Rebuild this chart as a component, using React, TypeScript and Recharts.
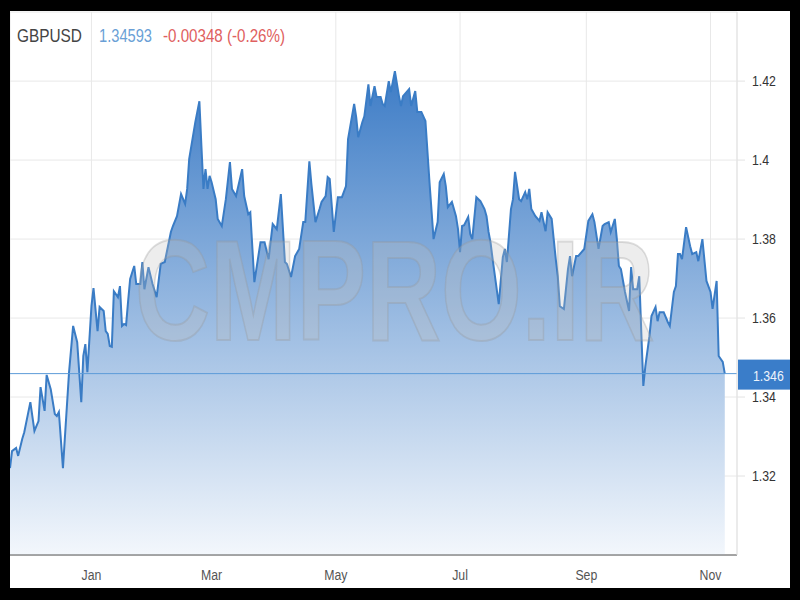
import React from 'react';
import { AreaChart, Area, XAxis, YAxis, CartesianGrid, ReferenceLine } from 'recharts';

// GBP/USD daily closes, Nov 2020 – Nov 2021
const SYMBOL = 'GBPUSD';
const PREV_CLOSE = 1.34941;
const START = Date.UTC(2020, 10, 22);
const DAY = 86400000;
const SPAN_DAYS = 357;

// [days since START, close]
const late2020: [number, number][] = [
  [0, 1.3220], [1, 1.3263], [3, 1.3271], [4, 1.3251], [6, 1.3294], [7, 1.3311], [10, 1.3387],
  [12, 1.3314], [14, 1.3339], [15, 1.3425], [17, 1.3365], [18, 1.3456], [20, 1.3420], [22, 1.3357],
  [23, 1.3352], [24, 1.3362], [26, 1.3220], [29, 1.3463], [31, 1.3580], [33, 1.3539], [35, 1.3387],
  [36, 1.3504], [37, 1.3534], [38, 1.3463],
];

const q1: [number, number][] = [
  [40, 1.3630], [41, 1.3676], [43, 1.3567], [44, 1.3628], [46, 1.3618], [47, 1.3567], [48, 1.3560],
  [49, 1.3529], [50, 1.3527], [51, 1.3668], [53, 1.3653], [54, 1.3681], [55, 1.3580], [56, 1.3585],
  [57, 1.3582], [58, 1.3643], [59, 1.3699], [61, 1.3732], [62, 1.3686], [64, 1.3686], [65, 1.3742],
  [66, 1.3673], [68, 1.3729], [70, 1.3686], [72, 1.3653], [74, 1.3737], [76, 1.3742], [79, 1.3818],
  [80, 1.3833], [82, 1.3858], [84, 1.3914], [86, 1.3889], [87, 1.3927], [88, 1.4003], [91, 1.4096],
  [93, 1.4149], [94, 1.4035], [95, 1.3927], [96, 1.3977], [97, 1.3927], [98, 1.3960], [99, 1.3944],
  [101, 1.3901], [102, 1.3851], [104, 1.3833], [106, 1.3901], [108, 1.3995], [109, 1.3927],
  [111, 1.3909], [114, 1.3977], [115, 1.3909], [117, 1.3863], [118, 1.3868], [120, 1.3691],
  [123, 1.3792], [125, 1.3792], [127, 1.3749], [129, 1.3838],
];

const q2: [number, number][] = [
  [131, 1.3825], [133, 1.3914], [135, 1.3742], [136, 1.3737], [138, 1.3704], [140, 1.3757],
  [142, 1.3775], [144, 1.3843], [145, 1.3843], [147, 1.3997], [148, 1.3939], [150, 1.3843],
  [152, 1.3876], [153, 1.3894], [155, 1.3909], [156, 1.3957], [157, 1.3952], [159, 1.3818],
  [161, 1.3906], [163, 1.3906], [165, 1.3934], [166, 1.4053], [169, 1.4142], [170, 1.4109],
  [171, 1.4058], [173, 1.4096], [174, 1.4111], [176, 1.4192], [177, 1.4137], [179, 1.4187],
  [180, 1.4160], [182, 1.4160], [183, 1.4142], [184, 1.4137], [186, 1.4200], [187, 1.4172],
  [189, 1.4225], [191, 1.4162], [192, 1.4137], [193, 1.4162], [196, 1.4180], [197, 1.4137],
  [199, 1.4175], [200, 1.4122], [202, 1.4122], [204, 1.4099], [206, 1.3944], [208, 1.3800],
  [210, 1.3843], [211, 1.3944], [213, 1.3965], [214, 1.3934], [215, 1.3881], [217, 1.3894],
  [219, 1.3858], [220, 1.3825],
];

const q3: [number, number][] = [
  [221, 1.3767], [222, 1.3833], [223, 1.3835], [225, 1.3856], [226, 1.3813], [227, 1.3800],
  [229, 1.3906], [231, 1.3896], [233, 1.3876], [234, 1.3858], [235, 1.3818], [236, 1.3790],
  [237, 1.3749], [240, 1.3635], [242, 1.3754], [243, 1.3775], [244, 1.3742], [246, 1.3876],
  [247, 1.3901], [248, 1.3970], [250, 1.3901], [251, 1.3896], [253, 1.3919], [254, 1.3901],
  [255, 1.3927], [256, 1.3876], [258, 1.3858], [260, 1.3846], [261, 1.3868], [263, 1.3820],
  [264, 1.3868], [266, 1.3851], [267, 1.3800], [268, 1.3749], [269, 1.3706], [270, 1.3630],
  [272, 1.3623], [274, 1.3724], [275, 1.3757], [276, 1.3706], [278, 1.3757], [279, 1.3757],
  [282, 1.3775], [284, 1.3846], [286, 1.3863], [287, 1.3843], [289, 1.3775], [291, 1.3833],
  [292, 1.3838], [294, 1.3843], [295, 1.3818], [297, 1.3851], [298, 1.3800], [299, 1.3732],
  [300, 1.3724], [302, 1.3666], [304, 1.3618], [305, 1.3729], [306, 1.3673], [308, 1.3673],
  [309, 1.3706], [310, 1.3565], [311, 1.3428], [312, 1.3478],
];

const q4: [number, number][] = [
  [314, 1.3554], [315, 1.3605], [317, 1.3628], [318, 1.3592], [319, 1.3615], [321, 1.3615],
  [323, 1.3590], [324, 1.3580], [326, 1.3666], [327, 1.3681], [328, 1.3762], [329, 1.3762],
  [330, 1.3749], [332, 1.3830], [334, 1.3782], [335, 1.3762], [337, 1.3767], [338, 1.3744],
  [340, 1.3800], [342, 1.3694], [344, 1.3666], [345, 1.3623], [347, 1.3694], [348, 1.3504],
  [350, 1.3489], [351, 1.34593],
];

const MONTH_LABELS = ['Jan', 'Mar', 'May', 'Jul', 'Sep', 'Nov'];
const MONTH_STARTS = [
  Date.UTC(2021, 0, 1), Date.UTC(2021, 2, 1), Date.UTC(2021, 4, 1),
  Date.UTC(2021, 6, 1), Date.UTC(2021, 8, 1), Date.UTC(2021, 10, 1),
];
const PRICE_TICKS = [1.32, 1.34, 1.36, 1.38, 1.40, 1.42];
const PRICE_DOMAIN: [number, number] = [1.30, 1.4375];
const WATERMARK = 'CMPRO.IR';

const series = [...late2020, ...q1, ...q2, ...q3, ...q4].map(([d, close]) => ({
  t: START + d * DAY,
  close,
}));

const LAST = series[series.length - 1].close;
const CHANGE = LAST - PREV_CLOSE;
const CHANGE_PCT = (CHANGE / PREV_CLOSE) * 100;

const W = 780;
const H = 577;
const FONT = "'Liberation Sans', Arial, Helvetica, sans-serif";
const NARROW = 'scale(0.82,1)';

const MonthTick = (props: any) => {
  const { x, y, payload } = props;
  const i = MONTH_STARTS.indexOf(payload.value);
  return (
    <g transform={`translate(${x},${y})`}>
      <text x={0} y={0} dy="0.71em" textAnchor="middle" fontSize={15} fill="#555" fontFamily={FONT} transform={NARROW}>
        {i >= 0 ? MONTH_LABELS[i] : ''}
      </text>
    </g>
  );
};

const PriceTick = (props: any) => {
  const { x, y, payload } = props;
  return (
    <g transform={`translate(${x},${y})`}>
      <text x={0} y={0} dy="0.355em" textAnchor="start" fontSize={15} fill="#333" fontFamily={FONT} transform={NARROW}>
        {String(Number(payload.value.toFixed(2)))}
      </text>
    </g>
  );
};

const PriceTag = (props: any) => {
  const { viewBox } = props;
  if (!viewBox) return null;
  const right = viewBox.x + viewBox.width;
  const cy = viewBox.y;
  return (
    <g>
      <rect x={right + 1} y={cy - 14} width={60} height={30} fill="#3a7dc9" />
      <g transform={`translate(${right + 16},${cy + 2})`}>
        <text x={0} y={0} dy="0.355em" textAnchor="start" fontSize={15} fill="#eef4fb" fontFamily={FONT} transform={NARROW}>
          {LAST.toFixed(3)}
        </text>
      </g>
    </g>
  );
};

export default function App() {
  return (
    <div style={{ position: 'absolute', left: 0, top: 0, width: 800, height: 600, background: '#000' }}>
      <div style={{ position: 'absolute', left: 10, top: 11, width: W, height: H, background: '#fff', overflow: 'hidden' }}>
        <AreaChart width={W} height={H} data={series} margin={{ top: 1, right: 0, bottom: 0, left: 0 }}>
          <defs>
            <linearGradient id="gbpFill" x1="0" y1="0" x2="0" y2="1">
              <stop offset="0%" stopColor="#3d7cc6" stopOpacity={1} />
              <stop offset="100%" stopColor="#f3f7fc" stopOpacity={1} />
            </linearGradient>
          </defs>
          <CartesianGrid stroke="#e8e8e8" />
          <XAxis
            dataKey="t"
            type="number"
            domain={[START, START + SPAN_DAYS * DAY]}
            ticks={MONTH_STARTS}
            tick={MonthTick}
            tickLine={false}
            tickSize={8}
            tickMargin={6}
            axisLine={{ stroke: '#555' }}
            height={33}
            allowDataOverflow
          />
          <YAxis
            orientation="right"
            domain={PRICE_DOMAIN}
            ticks={PRICE_TICKS}
            tick={PriceTick}
            width={53}
            tickSize={8}
            tickMargin={7}
            tickLine={{ stroke: '#e3e3e3' }}
            axisLine={{ stroke: '#e3e3e3' }}
            allowDataOverflow
          />
          <Area
            type="linear"
            dataKey="close"
            stroke="#3a7cc5"
            strokeWidth={2}
            fill="url(#gbpFill)"
            fillOpacity={1}
            dot={false}
            activeDot={false}
            isAnimationActive={false}
          />
          <ReferenceLine y={LAST} stroke="#5d9bd8" strokeWidth={1} label={PriceTag} />
        </AreaChart>
        <svg width={W} height={H} style={{ position: 'absolute', left: 0, top: 0, pointerEvents: 'none' }}>
          <g transform="translate(125,329) scale(0.732,1)">
            <text x={0} y={0} fontSize={142} fontWeight="bold" fontFamily={FONT}
              fill="rgba(190,190,190,0.28)" stroke="rgba(150,150,150,0.3)" strokeWidth={2}>
              {WATERMARK}
            </text>
          </g>
          <text x={7} y={31} fontSize={18} fontFamily={FONT} fill="#444" textLength={65} lengthAdjust="spacingAndGlyphs">
            {SYMBOL}
          </text>
          <text x={89} y={31} fontSize={18} fontFamily={FONT} fill="#6a9fd6" textLength={53} lengthAdjust="spacingAndGlyphs">
            {LAST.toFixed(5)}
          </text>
          <text x={153} y={31} fontSize={18} fontFamily={FONT} fill="#e06060" textLength={122} lengthAdjust="spacingAndGlyphs">
            {`${CHANGE.toFixed(5)} (${CHANGE_PCT.toFixed(2)}%)`}
          </text>
        </svg>
      </div>
    </div>
  );
}
